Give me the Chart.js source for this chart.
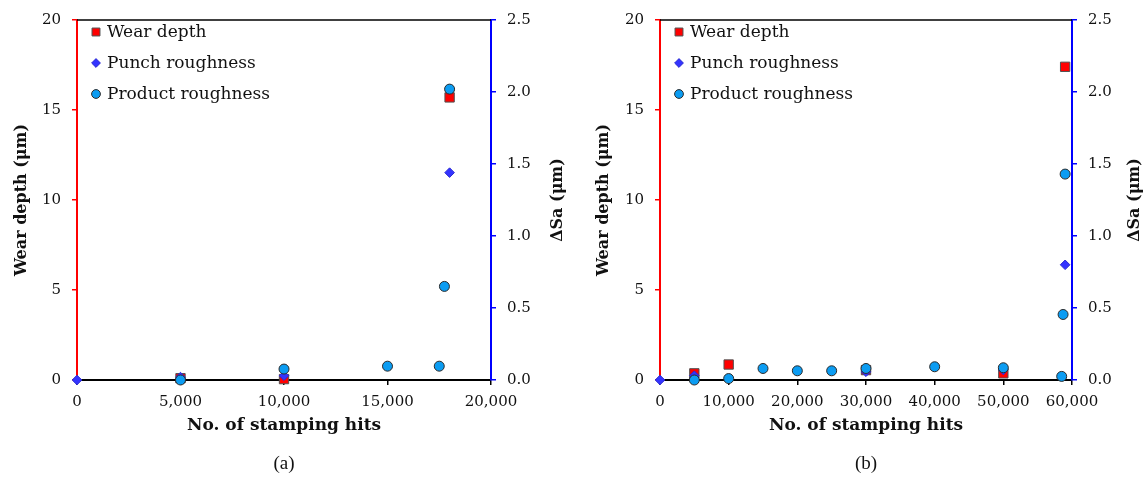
<!DOCTYPE html>
<html>
<head>
<meta charset="utf-8">
<script src="https://cdn.jsdelivr.net/npm/chart.js@4/dist/chart.umd.min.js"></script>
<style>
  html, body { margin: 0; padding: 0; background: #fff; }
  #wrap { position: relative; width: 1148px; height: 482px; overflow: hidden; }
  canvas { position: absolute; top: 0; }
  .cap { position: absolute; top: 452px; font-family: "Liberation Serif", serif; font-size: 19px; color: #111; transform: translateX(-50%); }
</style>
</head>
<body>
<div id="wrap">
  <canvas id="ca" width="574" height="482" style="left:0px"></canvas>
  <canvas id="cb" width="574" height="482" style="left:574px"></canvas>
  <div class="cap" style="left:284px">(a)</div>
  <div class="cap" style="left:866px">(b)</div>
</div>
<script>
// ---- Panel (a) data ----
const aWearX  = [5000, 10000, 18000];
const aWearY  = [0.1, 0.05, 15.7];
const aPunchX = [0, 5000, 10000, 18000];
const aPunchY = [0, 0.02, 0.03, 1.44];
const aProdX  = [5000, 10000, 15000, 17500, 17750, 18000];
const aProdY  = [0, 0.076, 0.096, 0.096, 0.65, 2.02];
const aXMax = 20000;

// ---- Panel (b) data ----
const bWearX  = [5000, 10000, 30000, 50000, 59000];
const bWearY  = [0.37, 0.86, 0.55, 0.37, 17.4];
const bPunchX = [0, 5000, 30000, 50000, 59000];
const bPunchY = [0, 0.03, 0.057, 0.07, 0.80];
const bProdX  = [5000, 10000, 15000, 20000, 25000, 30000, 40000, 50000, 58500, 58700, 59000];
const bProdY  = [0, 0.01, 0.08, 0.064, 0.064, 0.08, 0.092, 0.085, 0.025, 0.455, 1.43];
const bXMax = 60000;

// axis ranges / labels
const leftMax = 20, leftStep = 5;
const rightMax = 2.5, rightStep = 0.5;
const seriesNames = ['Wear depth', 'Punch roughness', 'Product roughness'];
const xTitle = 'No. of stamping hits';
const leftTitle = 'Wear depth (\u03bcm)';
const rightTitle = '\u0394Sa (\u03bcm)';

const zip = (xs, ys) => xs.map((x, i) => ({x: x, y: ys[i]}));
const SERIF = '"DejaVu Serif", serif';

const frame = {
  id: 'frame',
  afterDraw(chart, args, opts) {
    const {ctx, chartArea: ca} = chart;
    ctx.save();
    // top border
    ctx.strokeStyle = '#000';
    ctx.lineWidth = 1.5;
    ctx.beginPath();
    ctx.moveTo(ca.left, ca.top);
    ctx.lineTo(ca.right, ca.top);
    ctx.stroke();
    // legend (in plot area, top-left)
    ctx.font = '17px ' + SERIF;
    ctx.textAlign = 'left';
    ctx.textBaseline = 'middle';
    const rows = [32, 63, 94];
    const legendRadius = [5.6, 4.4, 4.4];
    chart.data.datasets.forEach((ds, i) => {
      ctx.save();
      ctx.fillStyle = ds.backgroundColor;
      ctx.strokeStyle = ds.borderColor;
      ctx.lineWidth = ds.borderWidth;
      Chart.helpers.drawPoint(ctx, { pointStyle: ds.pointStyle, radius: legendRadius[i], rotation: 0, borderWidth: ds.borderWidth },
        ca.left + opts.lx, rows[i]);
      ctx.restore();
      ctx.fillStyle = '#111';
      ctx.fillText(ds.label, ca.left + opts.lx + 11, rows[i] + 1);
    });
    // right title, reading bottom-to-top
    ctx.fillStyle = '#111';
    ctx.font = 'bold 16px ' + SERIF;
    ctx.textAlign = 'center';
    ctx.textBaseline = 'middle';
    ctx.translate(opts.rx, (ca.top + ca.bottom) / 2);
    ctx.rotate(-Math.PI / 2);
    ctx.fillText(rightTitle, 0, 0);
    ctx.restore();
  }
};

function makeChart(id, cfg) {
  const datasets = [
    { label: seriesNames[0], data: zip(cfg.wx, cfg.wy), yAxisID: 'y', order: 2, clip: false,
      pointStyle: 'rect', pointRadius: 6.6, backgroundColor: '#ff0000', borderColor: '#505050', borderWidth: 1 },
    { label: seriesNames[1], data: zip(cfg.px, cfg.py), yAxisID: 'y2', order: 1, clip: false,
      pointStyle: 'rectRot', pointRadius: 4.8, backgroundColor: '#3333ff', borderColor: '#2a2ad0', borderWidth: 1 },
    { label: seriesNames[2], data: zip(cfg.rx, cfg.ry), yAxisID: 'y2', order: 0, clip: false,
      pointStyle: 'circle', pointRadius: 5, backgroundColor: '#0b9cf2', borderColor: '#2b2b2b', borderWidth: 1 }
  ];
  return new Chart(document.getElementById(id), {
    type: 'scatter',
    data: { datasets: datasets },
    plugins: [frame],
    options: {
      responsive: false,
      animation: false,
      layout: { padding: { top: 17, left: 0, right: 0, bottom: 0 } },
      plugins: {
        frame: { rx: cfg.rightTitleX, lx: cfg.legendX },
        tooltip: { enabled: false },
        legend: { display: false }
      },
      scales: {
        x: {
          type: 'linear', min: 0, max: cfg.xmax,
          ticks: { stepSize: cfg.xStep, color: '#111', padding: 8,
                   font: { family: SERIF, size: 15 },
                   callback: v => v.toLocaleString('en-US') },
          grid: { drawOnChartArea: false, color: '#000', tickLength: 5, lineWidth: 1.5 },
          border: { color: '#000', width: 2 },
          title: { display: true, text: xTitle, color: '#111', font: { family: SERIF, size: 17, weight: 'bold' },
                   padding: { top: 0, bottom: 46 } },
          afterFit: s => { s.height = 102; }
        },
        y: {
          position: 'left', min: 0, max: leftMax,
          ticks: { stepSize: leftStep, color: '#111', padding: 11, font: { family: SERIF, size: 15 } },
          grid: { drawOnChartArea: false, color: '#ff0000', tickLength: 5, lineWidth: 1.5 },
          border: { color: '#ff0000', width: 2 },
          title: { display: true, text: leftTitle, color: '#111', font: { family: SERIF, size: 16, weight: 'bold' },
                   padding: { top: cfg.leftTitlePad, bottom: 0 } },
          afterFit: s => { s.width = cfg.leftW; }
        },
        y2: {
          position: 'right', min: 0, max: rightMax,
          ticks: { stepSize: rightStep, color: '#111', padding: 11, font: { family: SERIF, size: 15 },
                   callback: v => v.toFixed(1) },
          grid: { drawOnChartArea: false, color: '#0000ff', tickLength: 5, lineWidth: 1.5 },
          border: { color: '#0000ff', width: 2 },
          afterFit: s => { s.width = cfg.rightW; }
        }
      }
    }
  });
}

makeChart('ca', { wx: aWearX, wy: aWearY, px: aPunchX, py: aPunchY, rx: aProdX, ry: aProdY,
  xmax: aXMax, xStep: 5000, leftW: 77, rightW: 83, leftTitlePad: 12, rightTitleX: 558, legendX: 19 });
makeChart('cb', { wx: bWearX, wy: bWearY, px: bPunchX, py: bPunchY, rx: bProdX, ry: bProdY,
  xmax: bXMax, xStep: 10000, leftW: 86, rightW: 76, leftTitlePad: 20, rightTitleX: 561, legendX: 19 });
</script>
</body>
</html>
